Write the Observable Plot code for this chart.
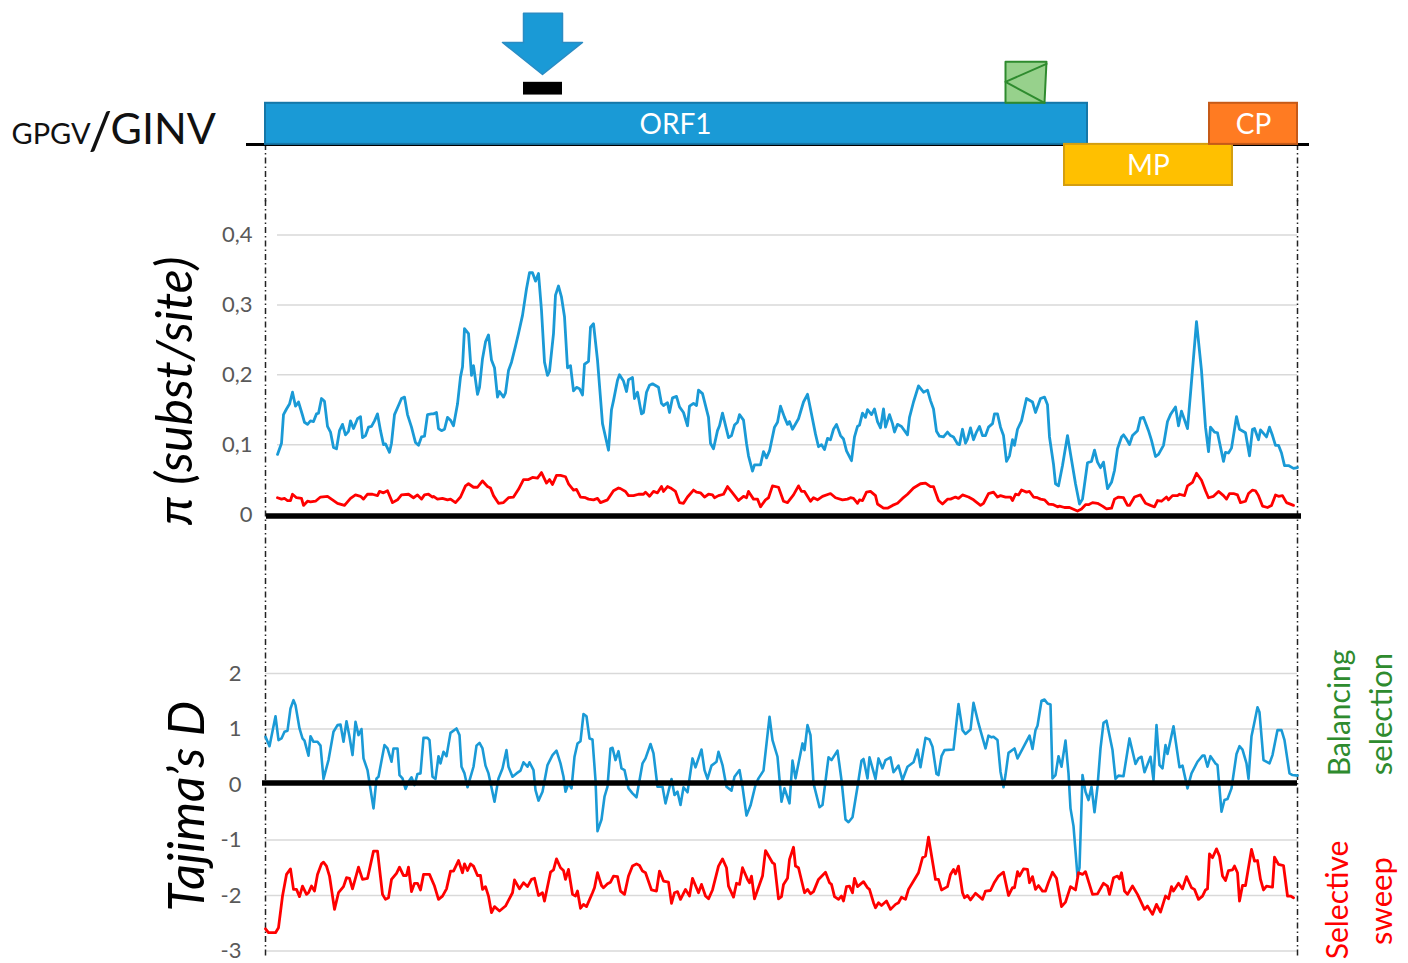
<!DOCTYPE html>
<html><head><meta charset="utf-8">
<script src="https://cdn.jsdelivr.net/npm/d3@7"></script>
<script src="https://cdn.jsdelivr.net/npm/@observablehq/plot@0.6"></script>
<style>
html,body{margin:0;padding:0;background:#fff}
#chart{position:relative;width:1408px;height:963px;overflow:hidden}
#chart svg{position:absolute;left:0;overflow:visible}
</style></head><body><div id="chart"></div>
<script>
// x is the genome bin along the GPGV/GINV genome
const piBlue=[[12,.086],[16,.102],[18,.143],[21,.151],[24,.158],[27,.175],[30,.155],[33,.161],[37,.142],[39,.132],[42,.129],[45,.134],[48,.133],[51,.144],[53,.145],[56,.166],[59,.162],[62,.126],[65,.118],[68,.096],[71,.094],[74,.120],[77,.129],[80,.114],[83,.119],[85,.134],[88,.123],[92,.137],[95,.140],[97,.110],[100,.113],[103,.125],[106,.126],[109,.134],[112,.144],[115,.120],[118,.100],[120,.101],[124,.089],[126,.102],[129,.143],[133,.156],[136,.166],[139,.168],[142,.143],[146,.125],[150,.103],[153,.099],[156,.111],[159,.112],[162,.143],[166,.144],[168,.144],[171,.146],[173,.123],[176,.120],[179,.122],[182,.139],[185,.135],[188,.127],[192,.158],[195,.197],[197,.211],[199,.266],[203,.259],[206,.199],[208,.213],[212,.172],[214,.182],[217,.223],[220,.247],[223,.257],[226,.221],[229,.210],[232,.168],[234,.176],[238,.168],[240,.174],[243,.206],[246,.218],[250,.241],[253,.259],[257,.285],[261,.323],[264,.346],[267,.346],[270,.334],[273,.345],[276,.292],[279,.218],[282,.199],[284,.205],[288,.259],[290,.314],[293,.327],[296,.311],[299,.283],[302,.210],[305,.213],[308,.177],[311,.182],[314,.180],[317,.171],[319,.215],[323,.219],[325,.268],[328,.273],[332,.221],[337,.130],[343,.092],[346,.150],[348,.163],[352,.192],[354,.200],[358,.191],[361,.176],[363,.193],[367,.196],[369,.166],[372,.175],[376,.144],[378,.146],[381,.175],[384,.185],[387,.187],[393,.182],[396,.159],[398,.156],[402,.160],[404,.146],[407,.167],[411,.169],[414,.154],[418,.146],[422,.127],[424,.155],[428,.159],[431,.156],[433,.178],[437,.173],[443,.139],[445,.102],[448,.094],[452,.120],[454,.127],[457,.145],[463,.110],[466,.113],[469,.128],[472,.132],[474,.143],[478,.135],[481,.102],[483,.084],[487,.062],[489,.071],[495,.071],[498,.090],[501,.081],[504,.091],[509,.125],[512,.132],[515,.155],[519,.139],[522,.129],[524,.133],[527,.122],[533,.137],[538,.161],[542,.172],[545,.151],[550,.115],[553,.097],[556,.100],[559,.093],[562,.109],[565,.107],[568,.122],[571,.129],[575,.113],[578,.108],[581,.091],[586,.077],[589,.111],[592,.126],[594,.128],[597,.145],[600,.139],[602,.150],[606,.143],[609,.151],[612,.133],[615,.124],[618,.151],[620,.125],[624,.143],[627,.130],[629,.118],[632,.129],[636,.126],[642,.114],[644,.139],[648,.161],[653,.184],[658,.175],[662,.178],[665,.163],[668,.151],[671,.119],[674,.112],[678,.111],[682,.118],[685,.113],[688,.111],[692,.101],[694,.100],[697,.122],[700,.102],[702,.108],[705,.124],[708,.107],[711,.118],[714,.126],[717,.113],[720,.113],[723,.125],[727,.130],[729,.144],[732,.144],[735,.125],[738,.113],[741,.076],[744,.084],[747,.107],[749,.099],[752,.122],[756,.134],[761,.166],[767,.161],[770,.146],[775,.166],[779,.168],[782,.157],[784,.111],[788,.072],[790,.044],[793,.041],[797,.070],[802,.113],[805,.087],[810,.044],[814,.015],[817,.022],[822,.074],[826,.076],[829,.092],[832,.075],[835,.067],[838,.075],[842,.037],[846,.046],[849,.063],[852,.094],[856,.111],[858,.114],[861,.108],[864,.100],[867,.113],[872,.120],[875,.138],[878,.139],[883,.120],[886,.106],[890,.083],[893,.086],[898,.099],[902,.133],[905,.143],[910,.154],[913,.127],[916,.148],[922,.123],[925,.173],[931,.276],[936,.206],[940,.125],[943,.090],[945,.125],[949,.118],[952,.117],[958,.076],[960,.089],[963,.088],[966,.095],[971,.140],[974,.122],[980,.117],[984,.084],[987,.122],[989,.123],[993,.107],[995,.121],[1001,.111],[1004,.125],[1007,.113],[1010,.099],[1013,.099],[1016,.088],[1019,.070],[1023,.070],[1028,.066],[1032,.067]];

const piRed=[[12,.024],[16,.022],[19,.023],[22,.020],[25,.020],[27,.029],[31,.024],[36,.023],[38,.013],[42,.019],[45,.018],[50,.019],[55,.025],[62,.026],[67,.021],[72,.016],[79,.013],[85,.023],[90,.028],[95,.026],[98,.022],[102,.029],[107,.029],[112,.027],[114,.033],[118,.031],[122,.034],[127,.017],[132,.021],[136,.028],[143,.029],[148,.024],[152,.028],[156,.022],[159,.028],[163,.029],[167,.025],[168,.026],[172,.022],[177,.023],[182,.021],[185,.022],[190,.017],[195,.025],[200,.041],[203,.044],[208,.039],[212,.039],[217,.048],[222,.040],[225,.038],[228,.027],[233,.016],[238,.017],[243,.024],[248,.025],[253,.036],[258,.050],[263,.050],[267,.053],[272,.052],[276,.060],[281,.045],[284,.050],[287,.043],[291,.056],[295,.056],[300,.054],[303,.044],[308,.035],[311,.036],[315,.025],[320,.024],[323,.022],[328,.021],[332,.023],[335,.017],[342,.021],[348,.034],[353,.038],[355,.037],[360,.033],[363,.027],[368,.027],[373,.029],[378,.029],[380,.032],[384,.026],[388,.033],[392,.031],[396,.040],[398,.033],[402,.040],[405,.038],[410,.033],[414,.017],[418,.016],[422,.025],[428,.035],[431,.032],[435,.031],[439,.025],[443,.029],[447,.028],[449,.024],[453,.027],[458,.029],[462,.040],[467,.031],[473,.020],[478,.026],[481,.024],[483,.033],[488,.022],[492,.022],[495,.011],[500,.021],[503,.024],[507,.041],[513,.039],[518,.019],[522,.017],[528,.028],[533,.041],[536,.033],[539,.033],[545,.019],[548,.024],[552,.021],[557,.026],[565,.030],[570,.024],[577,.021],[582,.022],[585,.024],[588,.023],[592,.016],[594,.021],[597,.020],[601,.032],[605,.033],[610,.027],[612,.015],[618,.009],[622,.009],[627,.013],[632,.016],[637,.023],[642,.029],[648,.038],[655,.044],[660,.045],[665,.040],[668,.040],[673,.020],[677,.015],[682,.022],[685,.022],[690,.025],[693,.023],[697,.028],[703,.025],[708,.021],[715,.013],[718,.016],[723,.030],[728,.032],[732,.025],[735,.027],[740,.025],[745,.025],[747,.020],[750,.029],[753,.028],[756,.035],[761,.032],[764,.033],[768,.025],[772,.024],[775,.022],[779,.021],[783,.015],[788,.014],[792,.011],[794,.012],[799,.010],[804,.010],[812,.005],[816,.008],[820,.014],[823,.014],[827,.017],[832,.016],[837,.012],[841,.008],[846,.009],[849,.022],[853,.025],[858,.024],[862,.013],[864,.013],[869,.025],[875,.028],[880,.016],[885,.013],[889,.011],[892,.020],[896,.019],[901,.025],[903,.021],[907,.027],[912,.027],[914,.029],[919,.027],[922,.041],[927,.046],[931,.059],[936,.049],[940,.034],[943,.024],[948,.026],[953,.033],[958,.027],[961,.022],[964,.030],[968,.030],[972,.028],[975,.017],[980,.019],[983,.030],[987,.035],[990,.034],[993,.027],[997,.012],[1002,.010],[1006,.013],[1010,.028],[1013,.026],[1017,.027],[1021,.017],[1028,.013]];

const tajimaBlue=[[0,.86],[4,.69],[10,1.23],[13,.80],[16,.83],[19,.95],[22,.97],[25,1.37],[28,1.52],[30,1.43],[34,1.01],[37,.83],[39,.79],[43,.52],[45,.87],[48,.77],[52,.77],[55,.70],[58,.10],[63,.44],[68,.95],[72,1.07],[75,1.08],[78,.77],[81,1.14],[84,.86],[87,.53],[90,1.13],[93,.89],[96,1.00],[98,.47],[102,.26],[108,-.43],[111,.11],[113,.14],[119,.71],[122,.65],[126,.41],[128,.65],[132,.65],[134,.17],[137,.11],[140,-.08],[143,.05],[146,.13],[149,-.01],[152,.19],[155,.20],[158,.84],[162,.84],[164,.80],[167,.14],[170,.10],[173,.51],[175,.38],[178,.59],[181,.51],[185,.93],[191,1.01],[194,.89],[196,.32],[199,.20],[202,-.05],[208,.32],[211,.70],[214,.75],[217,.65],[220,.34],[223,.20],[229,-.31],[233,.11],[237,.29],[241,.62],[243,.32],[247,.14],[251,.20],[255,.25],[258,.40],[262,.32],[264,.40],[268,.26],[270,-.10],[273,-.29],[277,-.13],[282,.35],[287,.53],[291,.61],[295,.38],[298,.14],[300,-.13],[303,.02],[306,-.07],[309,.50],[312,.74],[315,.78],[318,1.27],[321,1.23],[324,.83],[327,.81],[330,.08],[332,-.84],[336,-.63],[339,-.22],[342,-.04],[345,.65],[347,.66],[350,.44],[353,.60],[356,.29],[359,.26],[363,-.07],[367,-.16],[371,-.23],[377,.38],[380,.47],[385,.73],[388,.56],[392,-.04],[397,-.04],[400,-.34],[406,.10],[409,-.19],[412,-.13],[415,-.37],[418,-.05],[422,-.14],[427,.47],[430,.31],[436,.63],[439,.26],[442,.10],[446,.34],[451,.41],[453,.59],[457,.35],[461,-.04],[466,-.11],[469,.14],[474,.26],[477,-.04],[481,-.56],[485,-.38],[490,-.01],[493,.11],[498,.25],[504,1.22],[507,.80],[512,.50],[516,-.31],[519,-.07],[524,-.34],[527,.43],[530,.11],[537,.74],[539,.62],[542,1.07],[545,.89],[548,.02],[554,-.41],[557,-.37],[563,.49],[566,.44],[572,.61],[576,.08],[580,-.63],[583,-.68],[587,-.59],[592,-.04],[596,.43],[598,.46],[602,.11],[604,.49],[610,.10],[613,.47],[617,.29],[620,.44],[625,.49],[628,.22],[633,.34],[637,.08],[642,.32],[648,.40],[652,.63],[655,.31],[660,.84],[664,.81],[667,.68],[671,.19],[673,.17],[676,.51],[679,.62],[688,.63],[693,1.45],[697,.98],[700,.91],[705,.99],[708,1.47],[713,1.10],[720,.65],[723,.88],[726,.85],[728,.86],[732,.80],[735,.23],[738,-.05],[740,.17],[743,.57],[749,.65],[752,.47],[764,.88],[767,.64],[770,.98],[772,1.06],[776,1.51],[779,1.53],[782,1.46],[785,1.44],[787,.11],[790,.17],[793,.51],[796,.32],[800,.79],[803,.20],[805,-.43],[808,-.75],[812,-1.65],[814,-1.50],[817,.17],[820,-.13],[823,-.28],[826,-.04],[829,-.50],[832,-.04],[835,.65],[838,1.11],[841,1.15],[847,.62],[850,.10],[853,.16],[858,.15],[864,.83],[870,.37],[873,.47],[876,.50],[879,.22],[885,.50],[888,.08],[891,1.07],[894,.35],[897,.29],[900,.71],[902,.55],[908,1.05],[914,.31],[917,.34],[922,-.07],[926,.20],[932,.41],[937,.52],[939,.52],[942,.32],[945,.51],[950,.38],[952,.35],[956,-.49],[959,-.28],[962,-.26],[966,-.07],[971,.55],[974,.69],[977,.63],[981,.38],[983,.10],[986,.87],[988,1.04],[992,1.39],[994,1.30],[998,.44],[1004,.38],[1007,.53],[1012,.98],[1016,.98],[1019,.80],[1024,.20],[1027,.17],[1032,.16]];

const tajimaRed=[[0,-2.60],[3,-2.67],[10,-2.67],[13,-2.58],[17,-2.01],[21,-1.62],[25,-1.52],[28,-1.89],[31,-1.89],[34,-2.02],[37,-1.83],[41,-1.98],[43,-1.95],[46,-1.83],[49,-1.92],[52,-1.62],[56,-1.43],[58,-1.40],[61,-1.47],[64,-1.65],[69,-2.25],[73,-1.95],[78,-1.84],[81,-1.68],[84,-1.69],[87,-1.88],[93,-1.49],[97,-1.71],[102,-1.69],[108,-1.20],[112,-1.20],[117,-1.98],[120,-2.07],[123,-2.04],[126,-1.71],[131,-1.60],[134,-1.49],[138,-1.64],[141,-1.64],[143,-1.49],[146,-1.93],[149,-1.78],[152,-1.78],[155,-1.90],[158,-1.62],[164,-1.62],[169,-1.83],[173,-2.07],[177,-2.01],[181,-1.88],[185,-1.56],[188,-1.56],[193,-1.37],[197,-1.59],[199,-1.43],[202,-1.55],[205,-1.43],[208,-1.47],[212,-1.64],[215,-1.64],[217,-1.89],[220,-1.84],[223,-2.01],[226,-2.31],[229,-2.20],[234,-2.28],[240,-2.19],[247,-1.95],[249,-1.72],[254,-1.88],[258,-1.77],[262,-1.84],[266,-1.71],[269,-1.69],[273,-2.00],[277,-1.95],[279,-2.10],[285,-1.58],[288,-1.54],[291,-1.34],[295,-1.50],[298,-1.55],[300,-1.71],[303,-1.53],[307,-1.98],[310,-2.01],[312,-1.92],[315,-2.23],[318,-2.16],[321,-2.20],[327,-1.95],[329,-1.86],[332,-1.59],[336,-1.82],[338,-1.86],[342,-1.79],[345,-1.76],[348,-1.65],[352,-1.66],[355,-1.92],[359,-1.98],[363,-1.65],[367,-1.47],[371,-1.43],[374,-1.46],[377,-1.56],[380,-1.59],[386,-1.90],[391,-1.92],[394,-1.56],[398,-1.74],[403,-1.76],[406,-2.14],[409,-1.95],[412,-1.93],[415,-2.07],[420,-1.89],[424,-2.01],[427,-1.69],[433,-1.95],[436,-1.80],[440,-2.01],[443,-2.06],[447,-1.90],[453,-1.47],[457,-1.34],[461,-1.50],[463,-1.83],[468,-2.03],[471,-1.78],[474,-1.80],[477,-1.50],[482,-1.71],[484,-1.77],[486,-1.65],[489,-2.06],[497,-1.65],[500,-1.19],[507,-1.41],[509,-1.43],[513,-2.06],[516,-2.02],[518,-1.80],[522,-1.69],[524,-1.35],[528,-1.13],[530,-1.47],[533,-1.50],[539,-1.95],[542,-1.89],[545,-1.97],[548,-1.93],[553,-1.71],[560,-1.58],[564,-1.77],[566,-1.80],[569,-2.02],[573,-2.07],[576,-2.01],[578,-2.10],[581,-1.84],[584,-1.83],[587,-1.95],[589,-1.69],[592,-1.84],[598,-1.75],[602,-1.86],[604,-1.89],[608,-2.13],[610,-2.22],[613,-2.13],[616,-2.18],[621,-2.10],[625,-2.25],[630,-2.16],[633,-2.13],[636,-2.03],[640,-2.07],[643,-1.89],[650,-1.68],[653,-1.59],[657,-1.32],[660,-1.29],[663,-.95],[670,-1.71],[673,-1.71],[676,-1.90],[682,-1.84],[685,-1.62],[688,-1.53],[690,-1.61],[693,-1.47],[697,-1.95],[699,-2.04],[702,-2.00],[705,-2.08],[710,-1.96],[717,-2.07],[720,-1.92],[725,-1.91],[729,-1.76],[733,-1.65],[738,-1.58],[743,-2.00],[747,-1.86],[749,-1.86],[752,-1.57],[754,-1.65],[758,-1.52],[762,-1.53],[764,-1.77],[767,-1.66],[770,-1.89],[773,-1.82],[777,-1.92],[780,-1.92],[783,-1.76],[787,-1.58],[791,-1.69],[796,-2.20],[800,-2.12],[805,-1.84],[810,-1.90],[813,-1.59],[817,-1.62],[820,-1.57],[827,-1.98],[832,-1.97],[838,-1.78],[842,-1.83],[844,-1.98],[848,-1.68],[852,-1.65],[854,-1.70],[856,-1.59],[859,-1.92],[862,-1.98],[867,-1.83],[872,-1.98],[879,-2.25],[882,-2.19],[887,-2.34],[891,-2.16],[895,-2.30],[900,-2.01],[903,-2.06],[906,-1.84],[908,-1.92],[913,-1.78],[917,-1.88],[921,-1.66],[926,-1.86],[929,-1.89],[933,-2.07],[937,-2.01],[940,-1.90],[942,-1.88],[944,-1.25],[947,-1.32],[951,-1.16],[954,-1.29],[957,-1.65],[960,-1.73],[963,-1.55],[967,-1.54],[969,-1.47],[972,-1.59],[974,-2.10],[977,-1.82],[980,-1.82],[986,-1.17],[989,-1.38],[992,-1.37],[995,-1.71],[998,-1.90],[1001,-1.83],[1007,-1.85],[1009,-1.31],[1013,-1.44],[1018,-1.46],[1022,-2.01],[1025,-2.01],[1028,-2.04]];

const piTicks=[0.1,0.2,0.3,0.4];
const tajimaTicks=[-3,-2,-1,1,2];
const genes=[
 {name:"ORF1",start:0,end:822,low:0,high:1,fill:"#1a9ad6",edge:"#1577a8"},
 {name:"MP",start:799,end:967,low:-1,high:0,fill:"#ffc000",edge:"#d49e10"},
 {name:"CP",start:944,end:1032,low:0,high:1,fill:"#ff7b22",edge:"#c65a18"}
];
const arrowShape=[[258,3.19],[297,3.19],[297,2.48],[317,2.48],[277,1.70],[237,2.48],[258,2.48]];
const motifBox=[[740,1.01],[740,2.01],[781,2.01],[779,1.01]];
const motifFold=[[781,1.96],[740,1.52],[779,1.01]];

const FONT='Lato,"Open Sans",sans-serif';
const BLUE="#1a9ad6",RED="#ff0000",GRID="#d9d9d9",GREY="#595959",DARK="#222";
const X={domain:[0,1032],axis:null};
const MARGINS={marginLeft:265,marginRight:111,marginTop:0,marginBottom:0};
const STYLE={fontFamily:FONT,background:"transparent",overflow:"visible"};
const chart=document.getElementById("chart");
function place(plot,top){plot.style.top=top+"px";chart.appendChild(plot);}
const guide=(a,b)=>[0,1032].map(x=>Plot.ruleX([x],{y1:a,y2:b,stroke:DARK,strokeWidth:1.5,strokeDasharray:"6,3,1.5,3"}));

// genome map
place(Plot.plot({width:1408,height:200,...MARGINS,x:X,
 y:{domain:[-1,3.5],range:[185,0],axis:null},style:STYLE,
 marks:[
  guide(0,-1.4),
  Plot.ruleY([0],{x1:-19,x2:1044,stroke:"#000",strokeWidth:3}),
  Plot.rect(genes,{x1:"start",x2:"end",y1:"low",y2:"high",fill:"fill",stroke:"edge",strokeWidth:2}),
  Plot.text(genes,{x:d=>(d.start+d.end)/2+(d.name==="ORF1"?-1:0),y:d=>(d.low+d.high)/2,dy:1.5,text:"name",fill:"#fff",fontSize:28}),
  Plot.line(arrowShape,{x:d=>d[0],y:d=>d[1],curve:"linear-closed",fill:BLUE,stroke:"#2a8cc4",strokeWidth:1.5}),
  Plot.rect([0],{x1:258,x2:297,y1:1.2,y2:1.51,fill:"#000"}),
  Plot.line(motifBox,{x:d=>d[0],y:d=>d[1],curve:"linear-closed",fill:"#97d18c",stroke:"#2e8b2e",strokeWidth:2}),
  Plot.line(motifFold,{x:d=>d[0],y:d=>d[1],stroke:"#2e8b2e",strokeWidth:2}),
  Plot.text(["GPGV"],{x:-254,y:0,text:d=>d,textAnchor:"start",lineAnchor:"bottom",fontSize:29,fill:"#111"}),
  Plot.text(["/"],{x:-177,y:-.1,text:d=>d,textAnchor:"start",lineAnchor:"bottom",fontSize:52,fill:"#111"}),
  Plot.text(["GINV"],{x:-155,y:0,text:d=>d,textAnchor:"start",lineAnchor:"bottom",fontSize:43,fill:"#111"})
 ]}),0);

// nucleotide diversity
place(Plot.plot({width:1408,height:410,...MARGINS,x:X,
 y:{domain:[0,.4],range:[314,34.5],axis:null},style:STYLE,
 marks:[
  Plot.ruleY(piTicks,{x1:12,x2:1032,stroke:GRID,strokeWidth:1.5}),
  guide(.4+34.5/699,-.137),
  Plot.axisY([0,...piTicks],{tickSize:0,tickPadding:13,fontSize:22,color:GREY,label:null,tickFormat:d=>String(d).replace(".",",")}),
  Plot.line(piBlue,{x:d=>d[0],y:d=>d[1],stroke:BLUE,strokeWidth:2.8,strokeLinejoin:"round"}),
  Plot.line(piRed,{x:d=>d[0],y:d=>d[1],stroke:RED,strokeWidth:2.8,strokeLinejoin:"round"}),
  Plot.ruleY([0],{x1:1,x2:1036,dy:1.5,stroke:"#000",strokeWidth:5.5}),
  Plot.text(["π (subst/site)"],{x:-90,y:.177,text:d=>d,rotate:-90,fontSize:50,fontStyle:"italic",fill:"#000"})
 ]}),200);

// Tajima's D
place(Plot.plot({width:1408,height:353,...MARGINS,x:X,
 y:{domain:[-3,2],range:[340.5,63],axis:null},style:STYLE,
 marks:[
  Plot.ruleY(tajimaTicks,{x1:0,x2:1032,stroke:GRID,strokeWidth:1.5}),
  guide(3.1,-3.1),
  Plot.axisY([...tajimaTicks,0],{tickSize:0,tickPadding:24,fontSize:22,color:GREY,label:null,tickFormat:String}),
  Plot.line(tajimaBlue,{x:d=>d[0],y:d=>d[1],stroke:BLUE,strokeWidth:2.6,strokeLinejoin:"round"}),
  Plot.line(tajimaRed,{x:d=>d[0],y:d=>d[1],stroke:RED,strokeWidth:2.8,strokeLinejoin:"round"}),
  Plot.ruleY([0],{x1:-3,x2:1032,dy:-1.5,stroke:"#000",strokeWidth:5.5}),
  Plot.text(["Tajima’s D"],{x:-78,y:-.39,text:d=>d,rotate:-90,fontSize:50,fontStyle:"italic",fill:"#000"}),
  Plot.text(["Balancing"],{x:1075,y:1.29,text:d=>d,rotate:-90,fontSize:30,fill:"#2e8b2e"}),
  Plot.text(["selection"],{x:1117,y:1.27,text:d=>d,rotate:-90,fontSize:31,fill:"#2e8b2e"}),
  Plot.text(["Selective"],{x:1073,y:-2.08,text:d=>d,rotate:-90,fontSize:30,fill:RED}),
  Plot.text(["sweep"],{x:1117,y:-2.1,text:d=>d,rotate:-90,fontSize:31,fill:RED})
 ]}),610);
</script></body></html>
